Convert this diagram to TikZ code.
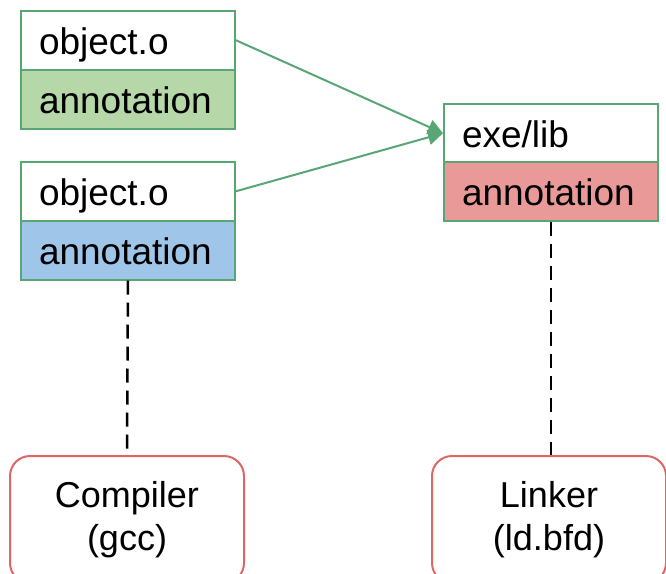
\documentclass[tikz,border=0pt]{standalone}
\usepackage{fontspec}
\setmainfont{Liberation Sans}
\usetikzlibrary{arrows.meta}
\definecolor{gborder}{RGB}{88,166,116}
\definecolor{rborder}{RGB}{224,102,102}
\definecolor{gfill}{HTML}{B6D7A8}
\definecolor{bfill}{HTML}{9FC5E8}
\definecolor{rfill}{HTML}{EA9999}
\tikzset{
  cell/.style={draw=gborder, line width=2pt, minimum width=214pt, minimum height=58.5pt,
    text width=178pt, align=left, inner xsep=18pt, inner ysep=0pt, anchor=north west,
    text height=36pt, text depth=7pt,
    font=\fontsize{37}{44}\selectfont},
  tool/.style={draw=rborder, line width=2pt, rounded corners=20pt, minimum width=234pt,
    minimum height=127pt, align=center, font=\fontsize{36}{43}\selectfont, anchor=north},
  flow/.style={draw=gborder, line width=2pt, -{Triangle[length=15pt,width=15pt]}},
  tie/.style={draw=black, line width=2.5pt, dash pattern=on 14pt off 8pt}
}
\begin{document}
\begin{tikzpicture}[x=1pt,y=-1pt]
\useasboundingbox (0,0) rectangle (666,573);
\clip (0,0) rectangle (666,573);
\node[cell] (o1) at (20,10) {object.o};
\node[cell, fill=gfill] (a1) at (20,69) {annotation};
\node[cell] (o2) at (20,161) {object.o};
\node[cell, fill=bfill] (a2) at (20,220) {annotation};
\node[cell] (r1) at (443,103) {exe/lib};
\node[cell, fill=rfill] (r2) at (443,161) {annotation};
\node[tool] (comp) at (127,455) {Compiler\\(gcc)};
\node[tool] (link) at (549,455) {Linker\\(ld.bfd)};
\draw[flow] (o1.east) -- (r1.west);
\draw[flow] (o2.east) -- (r1.west);
\draw[tie] (a2.south) -- (comp.north);
\draw[tie] (r2.south) -- (r2.south |- link.north);
\end{tikzpicture}
\end{document}
